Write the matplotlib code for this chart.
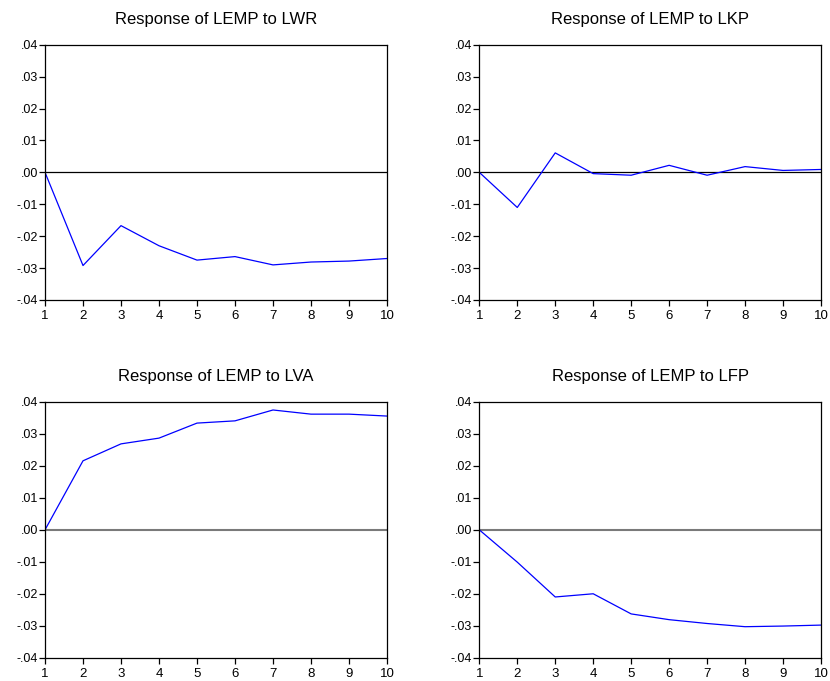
import matplotlib
matplotlib.use("Agg")
import matplotlib.pyplot as plt
from matplotlib.ticker import FuncFormatter, FixedLocator

plt.rcParams['font.family'] = ['Liberation Sans', 'DejaVu Sans']

periods = list(range(1, 11))
titles = ["Response of LEMP to LWR", "Response of LEMP to LKP",
          "Response of LEMP to LVA", "Response of LEMP to LFP"]
resp_lwr = [0.0, -0.0292, -0.0167, -0.0230, -0.0275, -0.0264, -0.0290, -0.0281, -0.0278, -0.0270]
resp_lkp = [0.0, -0.0110, 0.0061, -0.0004, -0.0009, 0.0022, -0.0009, 0.0018, 0.0006, 0.0009]
resp_lva = [0.0, 0.0216, 0.0269, 0.0287, 0.0334, 0.0341, 0.0375, 0.0362, 0.0362, 0.0356]
resp_lfp = [0.0, -0.0101, -0.0210, -0.0200, -0.0263, -0.0281, -0.0293, -0.0303, -0.0301, -0.0298]
yticks = [-0.04, -0.03, -0.02, -0.01, 0.0, 0.01, 0.02, 0.03, 0.04]

series = [resp_lwr, resp_lkp, resp_lva, resp_lfp]

fig = plt.figure(figsize=(8.3, 6.81), dpi=100)
W, H = 830, 681
boxes = [(45, 44.7, 387, 300), (479.3, 44.7, 821, 300),
         (45, 402, 387, 657.7), (479.3, 402, 821, 657.7)]

def fmt(v, pos):
    s = "%.2f" % v
    if s.startswith("-0"):
        s = "-" + s[2:]
    elif s.startswith("0"):
        s = s[1:]
    return s

for i, (box, vals, title) in enumerate(zip(boxes, series, titles)):
    x0, y0, x1, y1 = box
    ax = fig.add_axes([x0 / W, (H - y1) / H, (x1 - x0) / W, (y1 - y0) / H])
    zero_color = 'black' if i < 2 else '#7a7a7a'
    zero_lw = 0.9 if i < 2 else 1.5
    ax.axhline(0, color=zero_color, lw=zero_lw, zorder=1)
    ax.plot(periods, vals, color='#0000ff', lw=0.9, zorder=2)
    ax.set_xlim(1, 10)
    ax.set_ylim(-0.04, 0.04)
    ax.xaxis.set_major_locator(FixedLocator(periods))
    ax.yaxis.set_major_locator(FixedLocator(yticks))
    ax.yaxis.set_major_formatter(FuncFormatter(fmt))
    ax.tick_params(direction='out', length=4, width=0.9, top=False, right=False)
    ax.tick_params(axis='y', labelsize=9, pad=1.2)
    ax.tick_params(axis='x', labelsize=9.5, pad=3.5)
    for sp in ax.spines.values():
        sp.set_linewidth(0.9)
    ax.set_title(title, fontsize=12, pad=15)

fig.savefig("out.png", dpi=100)
